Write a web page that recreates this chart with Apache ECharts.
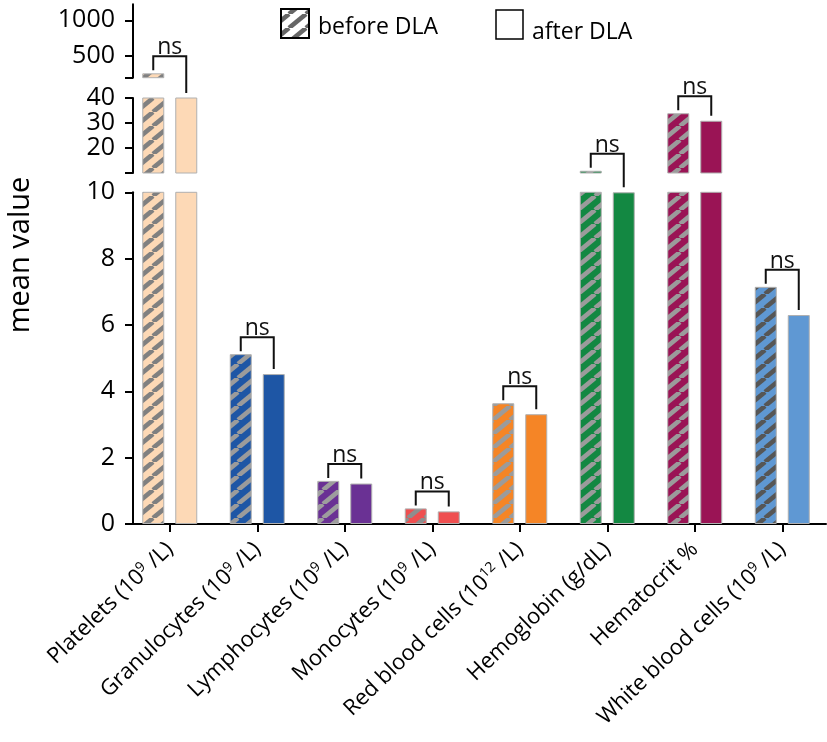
<!DOCTYPE html>
<html>
<head>
<meta charset="utf-8">
<script src="https://cdn.jsdelivr.net/npm/echarts@6/dist/echarts.min.js"></script>
<style>
  html, body { margin: 0; padding: 0; background: #fff; }
  #chart { width: 827px; height: 742px; }
</style>
</head>
<body>
<div id="chart"></div>
<script>
// Blood counts before and after DLA (mean values), broken y axis in three segments
const categories = [
  'Platelets (10{sup|9} /L)',
  'Granulocytes (10{sup|9} /L)',
  'Lymphocytes (10{sup|9} /L)',
  'Monocytes (10{sup|9} /L)',
  'Red blood cells (10{sup|12} /L)',
  'Hemoglobin (g/dL)',
  'Hematocrit %',
  'White blood cells (10{sup|9} /L)'
];
const beforeDLA = [261, 5.12, 1.30, 0.47, 3.64, 10.9, 33.9, 7.15];
const afterDLA  = [200, 4.52, 1.22, 0.38, 3.31, 10.0, 30.9, 6.30];
const significance = ['ns', 'ns', 'ns', 'ns', 'ns', 'ns', 'ns', 'ns'];

const barColors = ['#fdd9b6', '#1e56a5', '#6a3194', '#ef4f50', '#f58526', '#138842', '#9a1455', '#5f98d3'];
const stripeColors = ['#808080', '#9b9b9b', '#9d9d9d', '#8e8e8e', '#9b9b9b', '#9b9b9b', '#9b9b9b', '#565656'];

// y-axis segments, bottom to top
const bottomTicks = [0, 2, 4, 6, 8, 10];
const middleTicks = [10, 20, 30, 40];
const middleLabels = [20, 30, 40];
const topTicks = [200, 500, 1000];
const topLabels = [500, 1000];

const FONT = '"Open Sans", "Noto Sans", sans-serif';

// segment layout: grid index 0 = top, 1 = middle, 2 = bottom
const segs = [
  { top: 4.2,   height: 73.5,  min: 200, max: 1225, ticks: topTicks,    labels: topLabels },
  { top: 98,    height: 75,    min: 10,  max: 40,   ticks: middleTicks, labels: middleLabels },
  { top: 192.3, height: 331.7, min: 0,   max: 10,   ticks: bottomTicks, labels: bottomTicks }
];

function stripePattern(bg, fg) {
  const w = 17, h = 14;
  const c = document.createElement('canvas');
  c.width = w; c.height = h;
  const g = c.getContext('2d');
  g.fillStyle = bg;
  g.fillRect(0, 0, w, h);
  g.strokeStyle = fg;
  g.lineWidth = 4.6;
  for (const dx of [-w, 0, w]) {
    g.beginPath();
    g.moveTo(dx, h);
    g.lineTo(dx + w, 0);
    g.stroke();
  }
  return { image: c, repeat: 'repeat' };
}

const beforeFills = barColors.map((c, i) => stripePattern(c, stripeColors[i]));

const chart = echarts.init(document.getElementById('chart'), null, { renderer: 'canvas' });

const grids = [], xAxes = [], yAxes = [], series = [];
segs.forEach((s, gi) => {
  const isBottom = gi === segs.length - 1;
  grids.push({ left: 126, right: 1, top: s.top, height: s.height, containLabel: false });
  xAxes.push({
    type: 'category',
    gridIndex: gi,
    data: categories,
    show: isBottom,
    axisLine: { show: isBottom, lineStyle: { color: '#000', width: 2 } },
    axisTick: { show: isBottom, alignWithLabel: true, length: 8, lineStyle: { color: '#000', width: 2 } },
    axisLabel: {
      show: isBottom,
      interval: 0,
      rotate: 44,
      margin: 22,
      color: '#000',
      fontFamily: FONT,
      fontSize: 22,
      rich: {
        sup: { fontSize: 14, fontFamily: FONT, color: '#000', verticalAlign: 'top', lineHeight: 24 }
      }
    }
  });
  yAxes.push({
    type: 'value',
    gridIndex: gi,
    min: s.min,
    max: s.max,
    interval: isBottom ? 2 : undefined,
    offset: -7,
    axisLine: { show: true, lineStyle: { color: '#000', width: 2 } },
    axisTick: { show: true, length: 8, lineStyle: { color: '#000', width: 2 }, customValues: isBottom ? undefined : s.ticks },
    axisLabel: {
      color: '#000', fontFamily: FONT, fontSize: 25, margin: 18,
      customValues: isBottom ? undefined : s.labels,
      formatter: v => String(v)
    },
    splitLine: { show: false }
  });
  series.push({
    name: 'before DLA',
    type: 'bar',
    xAxisIndex: gi, yAxisIndex: gi,
    barWidth: 22, barGap: '50%',
    clip: true,
    silent: true,
    itemStyle: { borderColor: '#b0b0b0', borderWidth: 1 },
    data: beforeDLA.map((v, i) => ({ value: v, itemStyle: { color: beforeFills[i] } }))
  });
  series.push({
    name: 'after DLA',
    type: 'bar',
    xAxisIndex: gi, yAxisIndex: gi,
    barWidth: 22, barGap: '50%',
    clip: true,
    silent: true,
    itemStyle: { borderColor: '#b0b0b0', borderWidth: 1 },
    data: afterDLA.map((v, i) => ({ value: v, itemStyle: { color: barColors[i] } }))
  });
});

chart.setOption({
  animation: false,
  backgroundColor: '#fff',
  grid: grids,
  xAxis: xAxes,
  yAxis: yAxes,
  series: series
});

// pixel position of the visible top of a bar, looking through the segments from the top one down
function visibleTop(cat, v) {
  for (let gi = 0; gi < segs.length; gi++) {
    const s = segs[gi];
    if (v > s.min || gi === segs.length - 1) {
      return chart.convertToPixel({ gridIndex: gi }, [cat, Math.min(v, s.max)]);
    }
  }
}

const halfPair = (22 + 11) / 2;
const graphics = [];
categories.forEach((c, k) => {
  const pb = visibleTop(k, beforeDLA[k]);
  const pa = visibleTop(k, afterDLA[k]);
  const xl = pb[0] - halfPair, xr = pa[0] + halfPair;
  const yTop = Math.min(pb[1], pa[1]) - 17;
  graphics.push({
    type: 'polyline',
    silent: true,
    shape: { points: [[xl, pb[1] - 3], [xl, yTop], [xr, yTop], [xr, pa[1] - 5]] },
    style: { stroke: '#111', lineWidth: 2, fill: null }
  });
  graphics.push({
    type: 'text',
    silent: true,
    x: (xl + xr) / 2,
    y: yTop + 3,
    style: { text: significance[k], font: '23px ' + FONT, fill: '#111', textAlign: 'center', textVerticalAlign: 'bottom' }
  });
});

// y axis title
graphics.push({
  type: 'text', silent: true, x: 21, y: 255, rotation: Math.PI / 2,
  style: { text: 'mean value', font: '29px ' + FONT, fill: '#000', textAlign: 'center', textVerticalAlign: 'middle' }
});

// legend
graphics.push({
  type: 'rect', silent: true,
  shape: { x: 281, y: 9, width: 28, height: 29 },
  style: { fill: stripePattern('#ffffff', '#666666'), stroke: '#000', lineWidth: 2 }
});
graphics.push({
  type: 'text', silent: true, x: 318, y: 27,
  style: { text: 'before DLA', font: '23px ' + FONT, fill: '#000', textAlign: 'left', textVerticalAlign: 'middle' }
});
graphics.push({
  type: 'rect', silent: true,
  shape: { x: 496, y: 10, width: 27, height: 29 },
  style: { fill: '#fff', stroke: '#000', lineWidth: 1.5 }
});
graphics.push({
  type: 'text', silent: true, x: 532, y: 32,
  style: { text: 'after DLA', font: '23px ' + FONT, fill: '#000', textAlign: 'left', textVerticalAlign: 'middle' }
});

chart.setOption({ graphic: graphics });
</script>
</body>
</html>
